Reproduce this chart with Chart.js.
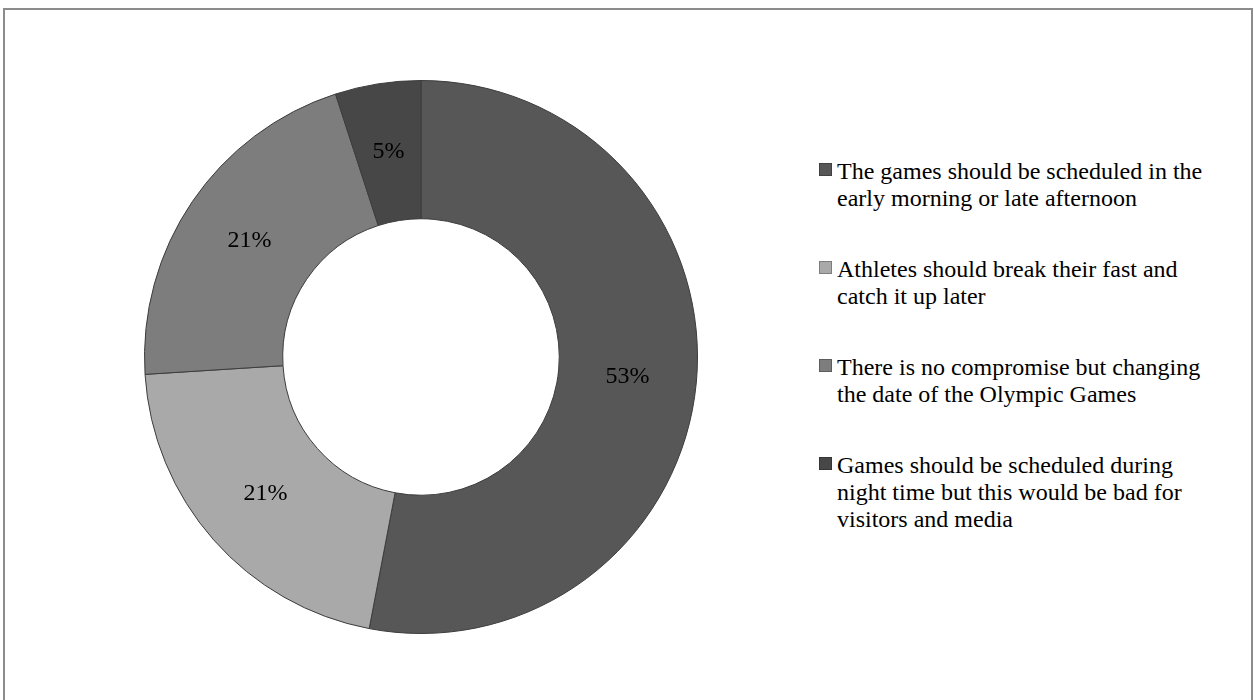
<!DOCTYPE html>
<html lang="en">
<head>
    <meta charset="UTF-8">
    <title>Olympic Games and fasting</title>
    <script src="https://cdn.jsdelivr.net/npm/chart.js"></script>
    <style>
        body {
            margin: 0;
            background: #fff;
            font-family: "Liberation Serif", "Times New Roman", serif;
        }

        .frame {
            position: absolute;
            left: 3px;
            top: 8px;
            width: 1246px;
            height: 720px;
            border: 2px solid #8c8c8c;
        }

        .chart-box {
            position: absolute;
            left: 144px;
            top: 80px;
            width: 554px;
            height: 554px;
        }

        .legend {
            position: absolute;
            left: 819px;
            top: 158px;
            display: flex;
            flex-direction: column;
            gap: 44px;
        }

        .legend-item {
            display: flex;
            align-items: flex-start;
            font-size: 24px;
            line-height: 27px;
            color: #000;
        }

        .legend-icon {
            width: 13px;
            height: 13px;
            margin-top: 5px;
            margin-right: 5px;
            flex: none;
            box-sizing: border-box;
            border: 1px solid rgba(0, 0, 0, 0.25);
        }
    </style>
</head>
<body>
    <div class="frame"></div>
    <div class="chart-box">
        <canvas id="donut"></canvas>
    </div>
    <div class="legend" id="legend"></div>

    <script>
        // legend text, one array of lines per answer
        const answers = [
            ['The games should be scheduled in the', 'early morning or late afternoon'],
            ['Athletes should break their fast and', 'catch it up later'],
            ['There is no compromise but changing', 'the date of the Olympic Games'],
            ['Games should be scheduled during', 'night time but this would be bad for', 'visitors and media']
        ];
        const shares = [53, 21, 21, 5];
        const shareLabels = ['53%', '21%', '21%', '5%'];
        const greys = ['#575757', '#a9a9a9', '#7d7d7d', '#474747'];

        // build the legend on the right
        const legendEl = document.getElementById('legend');
        answers.forEach((lines, i) => {
            const item = document.createElement('div');
            item.className = 'legend-item';
            const icon = document.createElement('div');
            icon.className = 'legend-icon';
            icon.style.background = greys[i];
            const text = document.createElement('div');
            text.innerHTML = lines.join('<br>');
            item.appendChild(icon);
            item.appendChild(text);
            legendEl.appendChild(item);
        });

        // percentage text in the middle of each ring piece
        const sliceText = {
            id: 'sliceText',
            afterDatasetsDraw(chart) {
                const ctx = chart.ctx;
                const meta = chart.getDatasetMeta(0);
                ctx.save();
                ctx.font = '24px "Liberation Serif", "Times New Roman", serif';
                ctx.fillStyle = '#000';
                ctx.textAlign = 'center';
                ctx.textBaseline = 'middle';
                meta.data.forEach((arc, i) => {
                    const p = arc.tooltipPosition();
                    ctx.fillText(shareLabels[i], p.x, p.y);
                });
                ctx.restore();
            }
        };

        new Chart(document.getElementById('donut'), {
            type: 'doughnut',
            data: {
                labels: answers.map(l => l.join(' ')),
                datasets: [{
                    data: shares,
                    backgroundColor: greys,
                    borderColor: '#3c3c3c',
                    borderWidth: 1,
                    hoverOffset: 0
                }]
            },
            options: {
                responsive: true,
                maintainAspectRatio: false,
                animation: false,
                cutout: '50%',
                layout: { padding: 0 },
                plugins: {
                    legend: { display: false },
                    tooltip: { enabled: false }
                }
            },
            plugins: [sliceText]
        });
    </script>
</body>
</html>
